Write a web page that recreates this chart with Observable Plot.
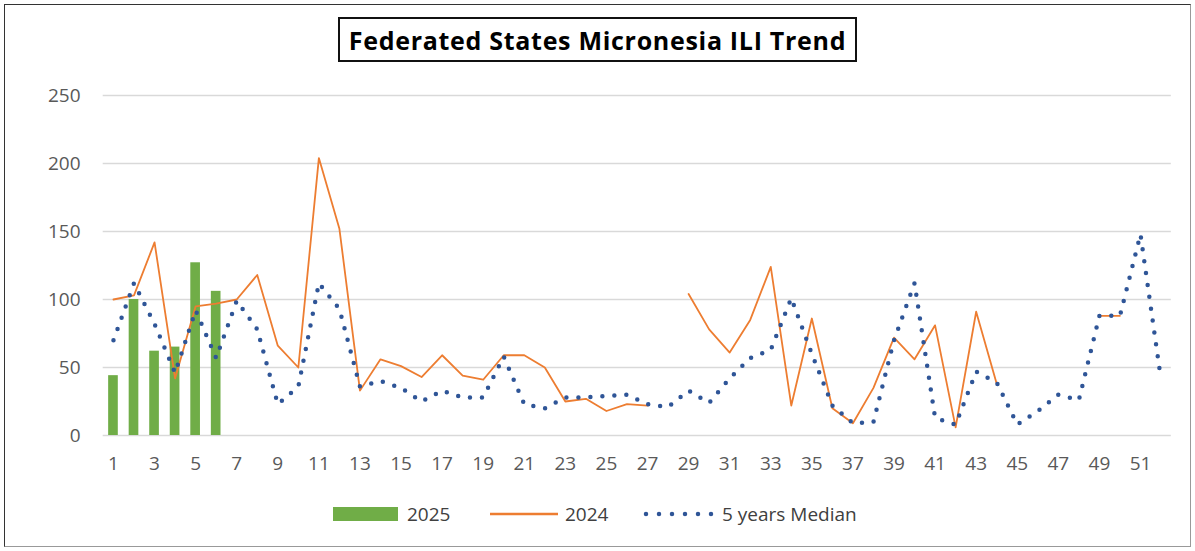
<!DOCTYPE html>
<html>
<head>
<meta charset="utf-8">
<script src="https://cdn.jsdelivr.net/npm/d3@7"></script>
<script src="https://cdn.jsdelivr.net/npm/@observablehq/plot@0.6"></script>
<style>
  html, body { margin: 0; padding: 0; background: #fff; }
  #frame { position: relative; width: 1195px; height: 551px; background: #fff; overflow: hidden; font-family: "Open Sans", sans-serif; }
  #border { position: absolute; left: 4px; top: 4px; width: 1187px; height: 543px; border-left: 1.5px solid #333; border-top: 1.5px solid #333; border-right: 1px solid #999; border-bottom: 1px solid #999; box-sizing: border-box; }
  #title { position: absolute; left: 338px; top: 17px; width: 519px; height: 45px; box-sizing: border-box; border: 2px solid #111; display: flex; align-items: center; justify-content: center; font-weight: 700; font-size: 25px; letter-spacing: 0.7px; color: #000; white-space: nowrap; }
  #chart { position: absolute; left: 0; top: 80px; }
  .lg { position: absolute; }
  .lgtext { position: absolute; top: 501px; font-size: 19px; color: #404040; line-height: 26px; white-space: nowrap; }
</style>
</head>
<body>
<div id="frame">
  <div id="border"></div>
  <div id="title">Federated States Micronesia ILI Trend</div>
  <div id="chart"></div>
  <div class="lg" style="left:333px;top:507px;width:65px;height:14px;background:#70AD47;"></div>
  <div class="lgtext" style="left:407px;">2025</div>
  <svg class="lg" style="left:488px;top:504px;" width="72" height="20"><line x1="2" x2="70" y1="10" y2="10" stroke="#ED7D31" stroke-width="2.5"/></svg>
  <div class="lgtext" style="left:565px;">2024</div>
  <svg class="lg" style="left:640px;top:504px;" width="76" height="20"><line x1="6" x2="72" y1="10" y2="10" stroke="#2F5597" stroke-width="4.5" stroke-dasharray="0 13" stroke-linecap="round"/></svg>
  <div class="lgtext" style="left:722px;">5 years Median</div>
</div>
<script>
// ---- data ----
const weeks = d3.range(1, 53);
const xTickLabels = d3.range(1, 52, 2);
const yTickValues = [0, 50, 100, 150, 200, 250];

const weeks2025 = [1, 2, 3, 4, 5, 6];
const ili2025 = [44, 100, 62, 65, 127, 106];

const ili2024 = [
  100, 103, 142, 42, 95, 97, 100, 118, 66, 50,
  204, 152, 33, 56, 51, 43, 59, 44, 41, 59,
  59, 50, 25, 27, 18, 23, 22, null, 104, 78,
  61, 85, 124, 22, 86, 20, 9, 35, 72, 56,
  81, 6, 91, 38, null, null, null, null, 88, 88,
  null, null
];

const median5 = [
  70, 112, 82, 46, 92, 57, 99, 78, 23, 36,
  112, 93, 36, 40, 35, 25, 33, 28, 28, 58,
  23, 20, 28, 28, 29, 30, 23, 21, 33, 24,
  42, 57, 63, 101, 60, 22, 9, 10, 70, 112,
  13, 8, 47, 39, 8, 18, 30, 26, 88, 88,
  148, 41
];

// ---- tables built from arrays ----
const bars = weeks2025.map((w, i) => ({week: w, value: ili2025[i]}));
const line2024 = weeks.map((w, i) => ({week: w, value: ili2024[i]}));
const lineMed = weeks.map((w, i) => ({week: w, value: median5[i]}));

const halfBar = 0.235;

const chart = Plot.plot({
  width: 1195,
  height: 400,
  marginLeft: 102.7,
  marginRight: 24.2,
  marginTop: 15,
  marginBottom: 45,
  style: {fontFamily: "'Open Sans', sans-serif", fontSize: "19px", color: "#595959", background: "transparent", overflow: "visible"},
  x: {type: "linear", domain: [0.5, 52.5]},
  y: {domain: [0, 250]},
  marks: [
    Plot.gridY(yTickValues, {stroke: "#d9d9d9", strokeOpacity: 1, strokeWidth: 1.5}),
    Plot.axisY(yTickValues, {tickSize: 0, tickPadding: 22.7, label: null, fill: "#595959"}),
    Plot.axisX(xTickLabels, {tickSize: 0, tickPadding: 21, label: null, fill: "#595959"}),
    Plot.rectY(bars, {x1: d => d.week - halfBar, x2: d => d.week + halfBar, y: "value", fill: "#70AD47"}),
    Plot.line(line2024, {x: "week", y: "value", stroke: "#ED7D31", strokeWidth: 1.8}),
    Plot.line(lineMed, {x: "week", y: "value", stroke: "#2F5597", strokeWidth: 4.5, strokeDasharray: "0 12", strokeLinecap: "round"})
  ]
});
document.getElementById("chart").appendChild(chart);
</script>
</body>
</html>
